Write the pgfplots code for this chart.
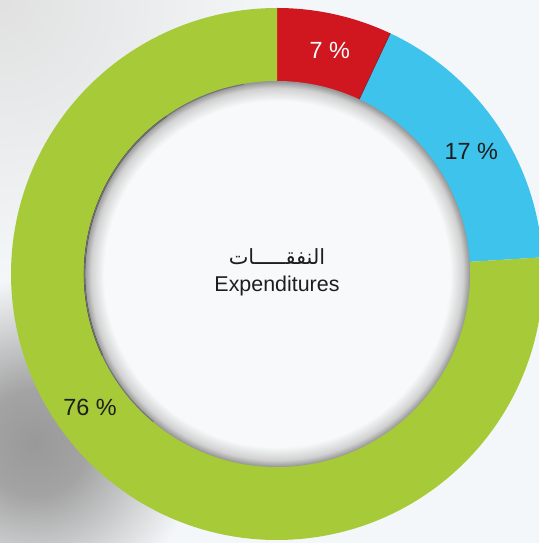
\documentclass[border=0pt]{standalone}
\usepackage{pgfplots}
\pgfplotsset{compat=1.18}
\usepackage{pgfplotstable}
\usepackage{fontspec}
\setmainfont{Liberation Sans}
\newfontfamily\arabicfont[Script=Arabic]{DejaVu Sans}
\TeXXeTstate=1
\definecolor{cred}{HTML}{D0161E}
\definecolor{cblue}{HTML}{3EC3EC}
\definecolor{cgreen}{HTML}{A6CA38}
\definecolor{bg}{HTML}{F4F7F9}
\definecolor{inwhite}{HTML}{F7F9FA}
\definecolor{txt}{HTML}{1E1E1E}
\pgfdeclareradialshading{innerdisk}{\pgfpoint{0bp}{0bp}}{%
  color(0bp)=(inwhite); color(22.4bp)=(inwhite); color(24.1bp)=(black!18); color(25bp)=(black!42); color(50bp)=(black!42)}
\pgfdeclareradialshading{blobshadow}{\pgfpoint{0bp}{0bp}}{%
  color(0bp)=(black!40); color(8bp)=(black!36); color(25bp)=(bg); color(50bp)=(bg)}
\pgfdeclareradialshading{cornerlight}{\pgfpoint{0bp}{0bp}}{%
  color(0bp)=(black!12); color(25bp)=(bg); color(50bp)=(bg)}

\pgfplotstableread{
slice value labelang
0 7 76.7
1 17 32.3
2 76 215.6
}\expdata

\pgfplotstablegetelem{0}{value}\of\expdata \let\va\pgfplotsretval
\pgfplotstablegetelem{1}{value}\of\expdata \let\vb\pgfplotsretval
\pgfplotstablegetelem{2}{value}\of\expdata \let\vc\pgfplotsretval
\pgfplotstablegetelem{0}{labelang}\of\expdata \let\la\pgfplotsretval
\pgfplotstablegetelem{1}{labelang}\of\expdata \let\lb\pgfplotsretval
\pgfplotstablegetelem{2}{labelang}\of\expdata \let\lc\pgfplotsretval
\pgfmathsetmacro{\aA}{90}
\pgfmathsetmacro{\aB}{90-3.6*\va}
\pgfmathsetmacro{\aC}{\aB-3.6*\vb}
\pgfmathsetmacro{\aD}{\aC-3.6*\vc}

\begin{document}
\begin{tikzpicture}
\begin{axis}[
  scale only axis, width=539bp, height=543bp,
  xmin=0, xmax=539, ymin=0, ymax=543,
  hide axis, clip=true,
]
\coordinate (bl) at (axis cs:0,0);
\coordinate (tr) at (axis cs:539,543);
\fill[bg] (axis cs:0,0) rectangle (axis cs:539,543);
\shade[shading=cornerlight] (axis cs:0,543) circle[radius=280bp];
\shade[shading=blobshadow] (axis cs:35,100) circle[radius=165bp];
% slices
\fill[cred] (axis cs:277,269) -- ([shift={(\aA:266bp)}]axis cs:277,269) arc[start angle=\aA, end angle=\aB, radius=266bp] -- cycle;
\fill[cblue] (axis cs:277,269) -- ([shift={(\aB:266bp)}]axis cs:277,269) arc[start angle=\aB, end angle=\aC, radius=266bp] -- cycle;
\fill[cgreen] (axis cs:277,269) -- ([shift={(\aC:266bp)}]axis cs:277,269) arc[start angle=\aC, end angle=\aD, radius=266bp] -- cycle;
\draw[cred!70!black, line width=0.6bp] (axis cs:277,269) -- ([shift={(\aB:266bp)}]axis cs:277,269);
% inner disk
\shade[shading=innerdisk] (axis cs:277,269) circle[radius=193bp];
\draw[black!75, line width=1.4bp, line cap=round] ([shift={(125:192.5bp)}]axis cs:277,269) arc[start angle=125, end angle=205, radius=192.5bp];
\draw[black!55, line width=1.0bp, line cap=round] ([shift={(100:192.5bp)}]axis cs:277,269) arc[start angle=100, end angle=230, radius=192.5bp];
% labels
\node[text=white, font=\fontsize{23.5}{26}\selectfont] at ([shift={(\la:230bp)}]axis cs:277,269) {\va~\%};
\node[text=txt, font=\fontsize{23.5}{26}\selectfont] at ([shift={(\lb:230bp)}]axis cs:277,269) {\vb~\%};
\node[text=txt, font=\fontsize{23.5}{26}\selectfont] at ([shift={(\lc:230bp)}]axis cs:277,269) {\vc~\%};
\node[text=txt, anchor=base, font=\fontsize{21}{24}\selectfont] at (axis cs:277,278) {\arabicfont\beginR النفقـــــات\endR};
\node[text=txt, anchor=base, font=\fontsize{21.5}{24}\selectfont] at (axis cs:277,251) {Expenditures};
\end{axis}
\pgfresetboundingbox
\path[use as bounding box] (bl) rectangle (tr);
\end{tikzpicture}
\end{document}
